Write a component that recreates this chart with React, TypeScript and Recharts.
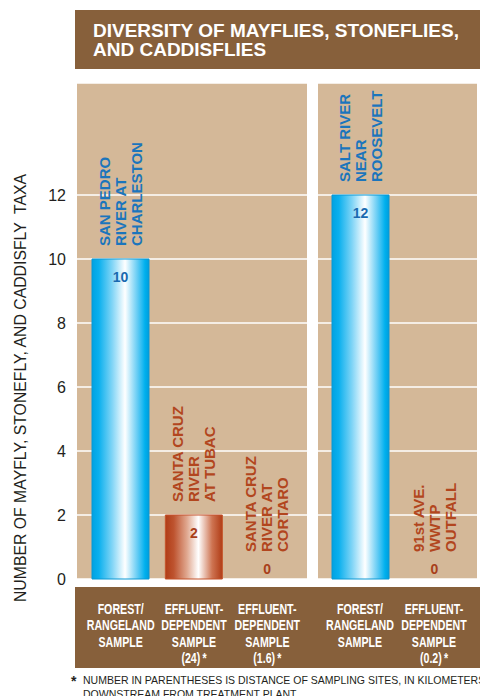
import React from 'react';
import { BarChart, Bar, XAxis, YAxis, CartesianGrid, Cell, LabelList } from 'recharts';

// sampling sites, left to right ('|' = line break)
const siteNames = [
  'SAN PEDRO|RIVER AT|CHARLESTON',
  'SANTA CRUZ|RIVER|AT TUBAC',
  'SANTA CRUZ|RIVER AT|CORTARO',
  'SALT RIVER|NEAR|ROOSEVELT',
  '91st AVE.|WWTP|OUTFALL',
];
const sampleTypes = [
  'FOREST/|RANGELAND|SAMPLE',
  'EFFLUENT-|DEPENDENT|SAMPLE',
  'EFFLUENT-|DEPENDENT|SAMPLE',
  'FOREST/|RANGELAND|SAMPLE',
  'EFFLUENT-|DEPENDENT|SAMPLE',
];
const distancesKm = ['', '24', '1.6', '', '0.2'];
const taxaCounts = [10, 2, 0, 12, 0];
const siteKinds = ['forest', 'effluent', 'effluent', 'forest', 'effluent'];
const leftPanelCount = 3;
const yTicks = [0, 2, 4, 6, 8, 10, 12];

const FONT = '"Liberation Sans", Arial, Helvetica, sans-serif';
const BROWN = '#87603B';
const TAN = '#D4B898';
const BLUE_TEXT = '#1B75BC';
const RUST_TEXT = '#B2461E';

const rows = siteNames.map((site, i) => ({
  key: 'site' + i,
  site,
  sample: sampleTypes[i],
  km: distancesKm[i],
  taxa: taxaCounts[i],
  kind: siteKinds[i],
}));
const rowByKey: Record<string, any> = {};
rows.forEach(r => (rowByKey[r.key] = r));

const leftData = rows.slice(0, leftPanelCount);
const rightData = rows.slice(leftPanelCount);

function Gradients() {
  return (
    <defs>
      <linearGradient id="blueBar" x1="0" y1="0" x2="1" y2="0">
        <stop offset="0" stopColor="#00A2E2" />
        <stop offset="0.12" stopColor="#0BB0EE" />
        <stop offset="0.35" stopColor="#7ED4F6" />
        <stop offset="0.58" stopColor="#FFFFFF" />
        <stop offset="0.8" stopColor="#62CBF4" />
        <stop offset="0.93" stopColor="#00B0EE" />
        <stop offset="1" stopColor="#009DDB" />
      </linearGradient>
      <linearGradient id="rustBar" x1="0" y1="0" x2="1" y2="0">
        <stop offset="0" stopColor="#B03C16" />
        <stop offset="0.15" stopColor="#BE5430" />
        <stop offset="0.38" stopColor="#E0A890" />
        <stop offset="0.58" stopColor="#FFFFFF" />
        <stop offset="0.82" stopColor="#CE7452" />
        <stop offset="1" stopColor="#B03C16" />
      </linearGradient>
    </defs>
  );
}

function SampleTick({ x, y, payload }: any) {
  const row = rowByKey[payload.value];
  if (!row) return null;
  const lines = row.sample.split('|');
  if (row.km) lines.push(`(${row.km})\u2009*`);
  return (
    <g transform={`translate(${x},${y}) scale(0.76,1)`}>
      {lines.map((l: string, i: number) => (
        <text key={i} x={0} y={33 + i * 16.5} textAnchor="middle" fill="#fff"
          fontFamily={FONT} fontWeight="bold" fontSize={14}>{l}</text>
      ))}
    </g>
  );
}

function SiteLabel(props: any) {
  const { x, y, width, value } = props;
  const row = rowByKey[value];
  if (!row) return null;
  const cx = x + width / 2;
  const color = row.kind === 'forest' ? BLUE_TEXT : RUST_TEXT;
  const valueColor = row.kind === 'forest' ? '#1A6AB0' : '#A83F1A';
  const bottom = row.taxa > 0 ? y - 13 : y - 26;
  const offs = [-11, 5, 21];
  return (
    <g>
      {row.site.split('|').map((l: string, i: number) => (
        <text key={i} x={cx + offs[i]} y={bottom} transform={`rotate(-90 ${cx + offs[i]} ${bottom})`}
          fill={color} fontFamily={FONT} fontWeight="bold" fontSize={15}>{l}</text>
      ))}
      <text x={cx} y={row.taxa > 0 ? y + 23 : y - 4} textAnchor="middle" fill={valueColor}
        fontFamily={FONT} fontWeight="bold" fontSize={14}>{row.taxa}</text>
    </g>
  );
}

function YTitle() {
  return (
    <text x={26} y={388} transform="rotate(-90 26 388)" textAnchor="middle" fill="#231F20"
      fontFamily={FONT} fontSize={15.8} style={{ whiteSpace: 'pre' }}>
      {'NUMBER OF MAYFLY, STONEFLY, AND CADDISFLY  TAXA'}
    </text>
  );
}

function Panel({ data, width, showAxis, padding }: any) {
  return (
    <BarChart width={width} height={670} data={data}
      margin={{ top: 83, right: 3, bottom: 2, left: 0 }}>
      <Gradients />
      <CartesianGrid vertical={false} fill={TAN} stroke="#FFFFFF" strokeWidth={1.5} />
      <XAxis dataKey="key" height={89} axisLine={false} tickLine={false} tickSize={0}
        padding={padding} interval={0} tick={<SampleTick />} />
      <YAxis type="number" domain={[0, 15.5]} ticks={yTicks} hide={!showAxis} width={77}
        axisLine={false} tickLine={false} tickSize={0} tickMargin={11}
        tick={{ fontSize: 16, fill: '#231F20', fontFamily: FONT }}
        label={showAxis ? <YTitle /> : undefined} />
      <Bar dataKey="taxa" barSize={57} minPointSize={1} isAnimationActive={false}>
        {data.map((r: any) => (
          <Cell key={r.key}
            fill={r.taxa === 0 ? 'none' : r.kind === 'forest' ? 'url(#blueBar)' : 'url(#rustBar)'}
            stroke={r.taxa === 0 ? 'none' : r.kind === 'forest' ? '#0A98D4' : '#C4532B'} strokeWidth={1} />
        ))}
        <LabelList dataKey="key" content={<SiteLabel />} />
      </Bar>
    </BarChart>
  );
}

export default function App() {
  return (
    <div style={{ position: 'absolute', left: 0, top: 0, width: 480, height: 696, background: '#fff', overflow: 'hidden' }}>
      <svg width={480} height={696} style={{ position: 'absolute', left: 0, top: 0 }}>
        <rect x={75} y={10} width={405} height={59} fill={BROWN} />
        <text x={93} y={37} fill="#fff" fontFamily={FONT} fontWeight="bold" fontSize={19}>
          DIVERSITY OF MAYFLIES, STONEFLIES,
        </text>
        <text x={93} y={56} fill="#fff" fontFamily={FONT} fontWeight="bold" fontSize={19}>
          AND CADDISFLIES
        </text>
        <rect x={75} y={587} width={405} height={81} fill={BROWN} />
        <text x={71} y={686} fill="#231F20" fontFamily={FONT} fontWeight="bold" fontSize={14}>*</text>
        <text x={83} y={684} fill="#231F20" fontFamily={FONT} fontSize={10.5}>
          NUMBER IN PARENTHESES IS DISTANCE OF SAMPLING SITES, IN KILOMETERS
        </text>
        <text x={83} y={698} fill="#231F20" fontFamily={FONT} fontSize={10.5}>
          DOWNSTREAM FROM TREATMENT PLANT
        </text>
      </svg>
      <div style={{ position: 'absolute', left: 0, top: 0 }}>
        <Panel data={leftData} width={310} showAxis padding={{ left: 7, right: 3 }} />
      </div>
      <div style={{ position: 'absolute', left: 318, top: 0 }}>
        <Panel data={rightData} width={162} showAxis={false} padding={{ left: 5, right: 6 }} />
      </div>
    </div>
  );
}
